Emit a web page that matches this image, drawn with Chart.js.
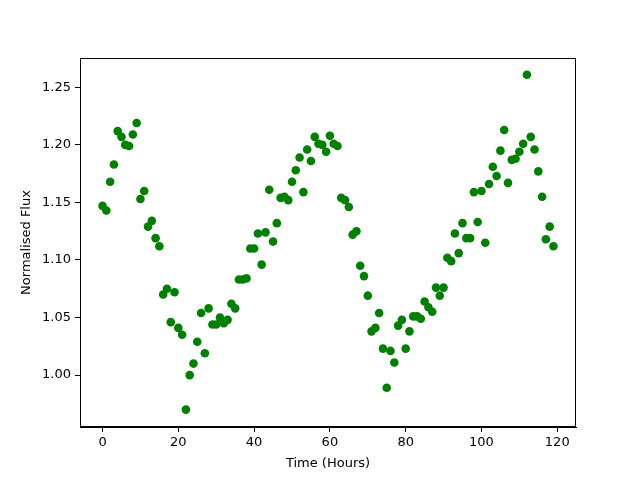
<!DOCTYPE html>
<html>
<head>
<meta charset="utf-8">
<script src="https://cdn.jsdelivr.net/npm/chart.js@4"></script>
<style>
  html, body { margin: 0; padding: 0; background: #fff; }
</style>
</head>
<body>
<canvas id="flux" width="640" height="480"></canvas>
<script>
// time in hours, 0..119
const hours = Array.from({ length: 120 }, (_, i) => i);
const flux = [
    1.147, 1.143, 1.168, 1.183, 1.212, 1.207, 1.200, 1.199, 1.209, 1.219,
    1.153, 1.160, 1.129, 1.134, 1.119, 1.112, 1.070, 1.075, 1.046, 1.072,
    1.041, 1.035, 0.970, 1.000, 1.010, 1.029, 1.054, 1.019, 1.058, 1.044,
    1.044, 1.050, 1.045, 1.048, 1.062, 1.058, 1.083, 1.083, 1.084, 1.110,
    1.110, 1.123, 1.096, 1.124, 1.161, 1.116, 1.132, 1.154, 1.155, 1.152,
    1.168, 1.178, 1.189, 1.159, 1.196, 1.186, 1.207, 1.201, 1.200, 1.194,
    1.208, 1.201, 1.199, 1.154, 1.152, 1.146, 1.122, 1.125, 1.095, 1.086,
    1.069, 1.038, 1.041, 1.054, 1.023, 0.989, 1.021, 1.011, 1.043, 1.048,
    1.023, 1.038, 1.051, 1.051, 1.049, 1.064, 1.059, 1.055, 1.076, 1.069,
    1.076, 1.102, 1.099, 1.123, 1.106, 1.132, 1.119, 1.119, 1.159, 1.133,
    1.160, 1.115, 1.166, 1.181, 1.173, 1.195, 1.213, 1.167, 1.187, 1.188,
    1.194, 1.201, 1.261, 1.207, 1.196, 1.177, 1.155, 1.118, 1.129, 1.112
];
const xTicks = [0, 20, 40, 60, 80, 100, 120];
const yTicks = [1.00, 1.05, 1.10, 1.15, 1.20, 1.25];

const font = { family: 'DejaVu Sans', size: 13 };

// matplotlib style full box round the axes
const boxPlugin = {
    id: 'box',
    afterDraw(chart) {
        const a = chart.chartArea;
        const ctx = chart.ctx;
        ctx.save();
        ctx.strokeStyle = '#000';
        ctx.lineWidth = 1;
        ctx.strokeRect(a.left + 0.5, a.top + 0.5, a.right - a.left - 1, a.bottom - a.top - 1);
        ctx.restore();
    }
};

new Chart(document.getElementById('flux').getContext('2d'), {
    type: 'scatter',
    data: {
        datasets: [{
            data: hours.map((h, i) => ({ x: h, y: flux[i] })),
            backgroundColor: '#008000',
            borderColor: '#008000',
            pointRadius: 4.3,
            pointHoverRadius: 4.3,
            borderWidth: 0
        }]
    },
    options: {
        responsive: false,
        animation: false,
        devicePixelRatio: 1,
        layout: { padding: { top: 58, right: 64, left: 0, bottom: 0 } },
        plugins: { legend: { display: false }, tooltip: { enabled: false } },
        scales: {
            x: {
                type: 'linear',
                min: -5.95,
                max: 124.95,
                afterFit: (s) => { s.height = 53; },
                afterBuildTicks: (s) => { s.ticks = xTicks.map(v => ({ value: v })); },
                grid: { drawOnChartArea: false, drawTicks: true, tickLength: 5, color: '#000' },
                border: { color: '#000' },
                ticks: { color: '#000', font, padding: 3, maxRotation: 0 },
                title: { display: true, text: 'Time (Hours)', color: '#000', font, padding: { top: 0, bottom: 9 } }
            },
            y: {
                min: 0.9549,
                max: 1.2755,
                afterFit: (s) => { s.width = 80; },
                afterBuildTicks: (s) => { s.ticks = yTicks.map(v => ({ value: v })); },
                grid: { drawOnChartArea: false, drawTicks: true, tickLength: 5, color: '#000' },
                border: { color: '#000' },
                ticks: { color: '#000', font, padding: 4, callback: (v) => Number(v).toFixed(2) },
                title: { display: true, text: 'Normalised Flux', color: '#000', font, padding: { top: 19, bottom: 0 } }
            }
        }
    },
    plugins: [boxPlugin]
});
</script>
</body>
</html>
